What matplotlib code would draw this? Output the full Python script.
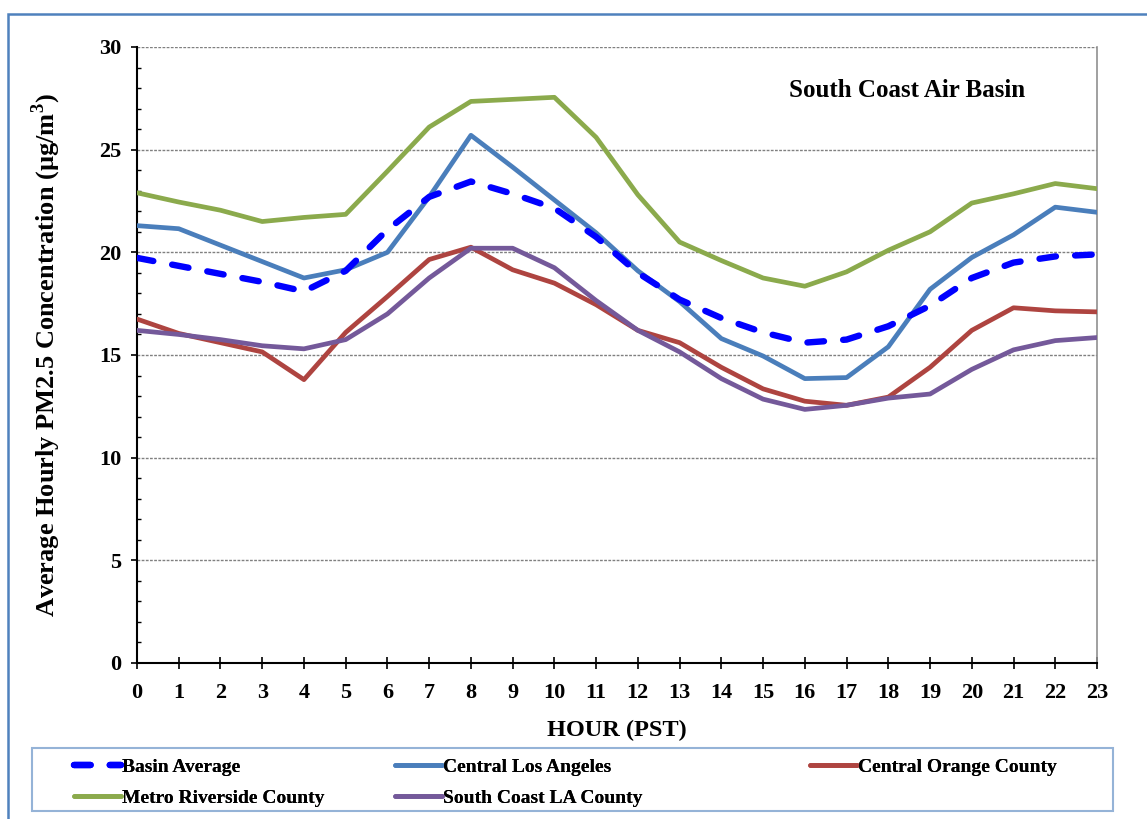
import matplotlib
matplotlib.use("Agg")
import matplotlib.pyplot as plt
from matplotlib.patches import Rectangle
from matplotlib.ticker import MultipleLocator

plt.rcParams['font.family'] = ['Liberation Serif', 'DejaVu Serif']
plt.rcParams['font.weight'] = 'bold'
plt.rcParams['mathtext.fontset'] = 'custom'
plt.rcParams['mathtext.rm'] = 'Liberation Serif'
plt.rcParams['mathtext.bf'] = 'Liberation Serif:bold'

hours = list(range(24))
hour_labels = [str(h) for h in hours]

basin_average = [19.73, 19.34, 18.95, 18.56, 18.1, 19.1, 21.1, 22.7, 23.45, 22.85, 22.15, 20.75,
                 19.0, 17.7, 16.8, 16.1, 15.6, 15.75, 16.4, 17.4, 18.75, 19.5, 19.8, 19.9]
central_la = [21.3, 21.15, 20.35, 19.55, 18.75, 19.15, 20.0, 22.7, 25.7, 24.15, 22.55, 20.95,
              19.1, 17.6, 15.8, 14.95, 13.85, 13.9, 15.4, 18.2, 19.75, 20.85, 22.2, 21.95]
central_orange = [16.75, 16.05, 15.6, 15.15, 13.8, 16.1, 17.85, 19.65, 20.25, 19.15, 18.5, 17.45,
                  16.2, 15.6, 14.4, 13.35, 12.75, 12.55, 12.95, 14.4, 16.2, 17.3, 17.15, 17.1]
metro_riverside = [22.9, 22.45, 22.05, 21.5, 21.7, 21.85, 23.95, 26.1, 27.35, 27.45, 27.55, 25.6,
                   22.8, 20.5, 19.6, 18.75, 18.35, 19.05, 20.1, 21.0, 22.4, 22.85, 23.35, 23.1]
south_coast_la = [16.2, 16.0, 15.75, 15.45, 15.3, 15.75, 17.0, 18.75, 20.2, 20.2, 19.25, 17.65,
                  16.2, 15.15, 13.85, 12.85, 12.35, 12.55, 12.9, 13.1, 14.3, 15.25, 15.7, 15.85]

names = ["Basin Average", "Central Los Angeles", "Central Orange County",
         "Metro Riverside County", "South Coast LA County"]

fig = plt.figure(figsize=(11.47, 8.19), dpi=100)
ax = fig.add_axes([137/1147, 1-663/819, 960/1147, 616/819])

c_blue = '#4A7EBB'
c_red = '#AE4440'
c_green = '#8BAA4C'
c_purple = '#74599A'

lw_solid = 3.4
l_cla, = ax.plot(hours, central_la, color=c_blue, lw=lw_solid, label=names[1], solid_capstyle='round', zorder=3)
l_coc, = ax.plot(hours, central_orange, color=c_red, lw=lw_solid, label=names[2], solid_capstyle='round', zorder=3)
l_mrc, = ax.plot(hours, metro_riverside, color=c_green, lw=lw_solid, label=names[3], solid_capstyle='round', zorder=3)
l_scla, = ax.plot(hours, south_coast_la, color=c_purple, lw=lw_solid, label=names[4], solid_capstyle='round', zorder=3)
l_ba, = ax.plot(hours, basin_average, color='#0000FF', lw=4.6, label=names[0],
                dashes=(2.6, 3.0), dash_capstyle='round', zorder=4)

ax.set_xlim(0, 23)
ax.set_ylim(0, 30)
ax.set_xticks(hours)
ax.set_xticklabels(hour_labels)
ax.yaxis.set_major_locator(MultipleLocator(5))
ax.yaxis.set_minor_locator(MultipleLocator(1))

ax.grid(axis='y', which='major', color='#808080', linestyle=(0, (2, 1)), lw=1.0, zorder=1)
ax.set_axisbelow(True)

ax.spines['top'].set_visible(False)
ax.spines['right'].set_color('#909090')
ax.spines['right'].set_linewidth(1.2)
ax.spines['left'].set_linewidth(1.5)
ax.spines['bottom'].set_linewidth(1.5)

ax.tick_params(axis='x', direction='inout', length=9, width=1.2, pad=10, labelsize=16)
ax.tick_params(axis='y', which='major', direction='out', length=4.5, width=1.2, pad=7, labelsize=16)
ax.tick_params(axis='y', which='minor', direction='in', length=3, width=1.0)
for lab in ax.get_xticklabels() + ax.get_yticklabels():
    lab.set_fontweight('bold')

ax.set_xlabel("HOUR (PST)", fontsize=17.5, fontweight='bold')
ax.xaxis.set_label_coords(0.5, -0.0925)
ax.set_ylabel(r"Average Hourly PM2.5 Concentration (µg/m$^{\mathbf{3}}$)", fontsize=19, fontweight='bold')
ax.yaxis.set_label_coords(-0.077, 0.5)

ax.text(0.802, 0.9286, "South Coast Air Basin", transform=ax.transAxes, ha='center', va='center',
        fontsize=18, fontweight='bold')

# Outer chart border
fig.patches.append(Rectangle((8/1147, -0.05), 1.2, 1 - 14/819 + 0.05, transform=fig.transFigure,
                             fill=False, edgecolor='#4F81BD', lw=1.8))

# Legend box
fig.patches.append(Rectangle((32/1147, 1-811/819), (1113-32)/1147, (811-748)/819, transform=fig.transFigure,
                             fill=False, edgecolor='#95B3D7', lw=1.5))

def col_legend(handles, x_px):
    leg = fig.legend(handles=handles, loc='upper left', bbox_to_anchor=(x_px/1147, 1-754/819),
                     frameon=False, handlelength=2.4, handletextpad=0.05, labelspacing=0.72,
                     borderpad=0.2, borderaxespad=0,
                     prop={'family': 'Liberation Serif', 'weight': 'bold', 'size': 14})
    fig.add_artist(leg)
    return leg

col_legend([l_ba, l_mrc], 70)
col_legend([l_cla, l_scla], 391)
col_legend([l_coc], 806)

fig.savefig("out.png", dpi=100)
